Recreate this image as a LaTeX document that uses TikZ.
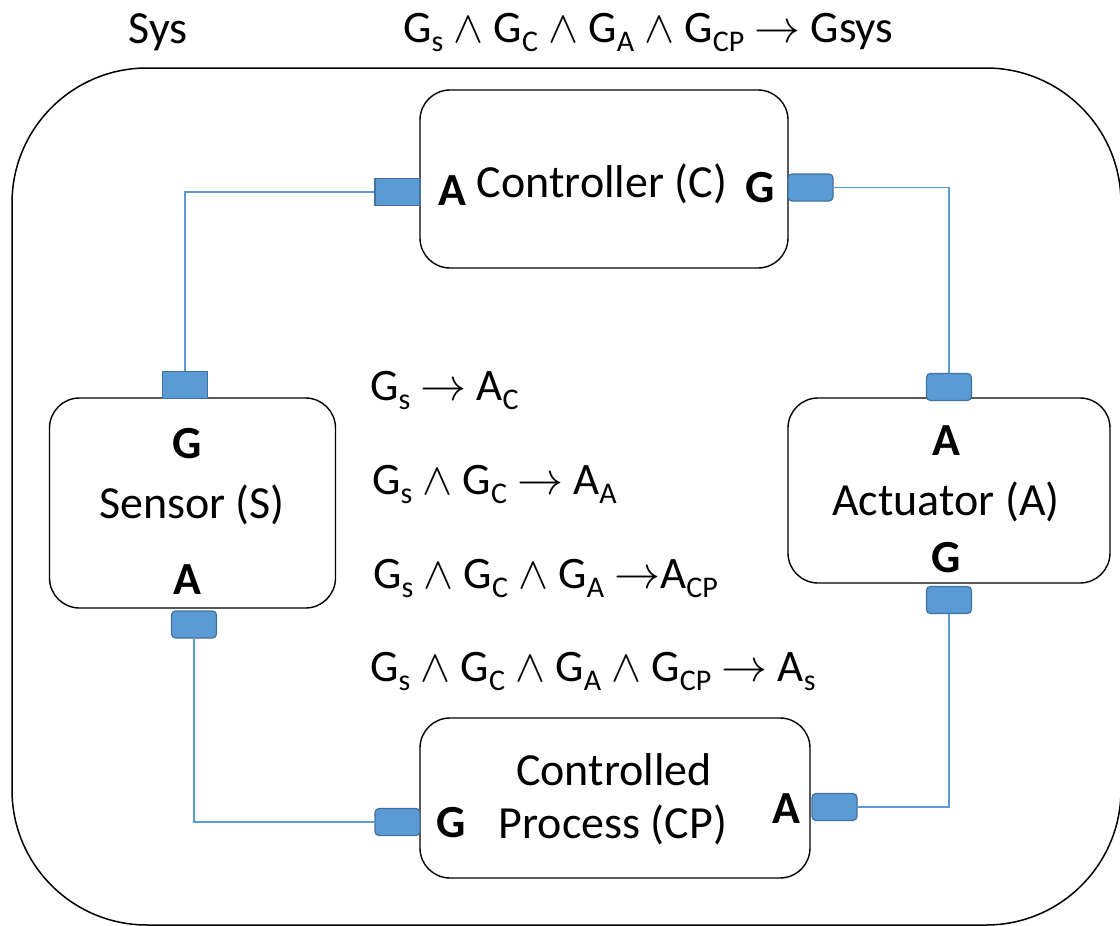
\documentclass[tikz,border=0pt]{standalone}
\usepackage{graphicx}
\usepackage{fontspec}
\setmainfont{Carlito}
\definecolor{portfill}{RGB}{91,155,213}
\definecolor{portedge}{RGB}{65,113,156}
\definecolor{wire}{RGB}{91,155,213}
\newcommand\lsub[1]{\raisebox{-0.22em}{\fontsize{30}{32}\selectfont #1}}
\newcommand\mwedge{\scalebox{4.5}{\fontsize{10}{12}\selectfont$\wedge$}}
\newcommand\marrow{\scalebox{4.6}{\fontsize{10}{12}\selectfont$\rightarrow$}}
\tikzset{
  frame/.style={draw=black, line width=1.5pt, rounded corners=135pt},
  block/.style={draw=black, line width=1.4pt, rounded corners=30pt, fill=white,
    rectangle, inner sep=0pt},
  port/.style={draw=portedge, fill=portfill, line width=1.2pt, rectangle,
    inner sep=0pt, minimum width=45pt, minimum height=27pt},
  rport/.style={port, rounded corners=4pt},
  wireline/.style={draw=wire, line width=1.6pt},
  lbl/.style={inner sep=0pt, anchor=base, font=\fontsize{46}{54}\selectfont},
  blbl/.style={lbl, font=\fontsize{46}{54}\selectfont\bfseries},
  fml/.style={inner sep=0pt, anchor=base west, font=\fontsize{45}{53}\selectfont},
}
\begin{document}
\begin{tikzpicture}[x=1pt, y=-1pt]
\useasboundingbox (0,0) rectangle (1120,926);
\begin{scope}
  \clip (0,0) rectangle (1120,926);
  \draw[frame] (12,68) rectangle (1121,925);
\end{scope}

% system label and overall guarantee
\node[lbl] (sys) at (158,43) {Sys};
\node[fml] (gsys) at (403,42) {G\lsub{s} \mwedge{} G\lsub{C} \mwedge{} G\lsub{A} \mwedge{} G\lsub{CP} \marrow{} Gsys};

% components
\node[block, minimum width=368pt, minimum height=178pt] (ctrl) at (604,179) {};
\node[block, minimum width=286pt, minimum height=210pt] (sens) at (192.5,503) {};
\node[block, minimum width=322pt, minimum height=185pt] (act) at (949,490.5) {};
\node[block, minimum width=390pt, minimum height=160pt] (proc) at (615,798) {};

% ports
\node[port]  (cL) at (397.5,192) {};
\node[rport] (cR) at (810.5,187.5) {};
\node[port]  (sT) at (185,385) {};
\node[rport] (sB) at (194,624.5) {};
\node[rport] (aT) at (949,387) {};
\node[rport] (aB) at (949,600) {};
\node[rport] (pL) at (397.5,822) {};
\node[rport] (pR) at (834.5,807) {};

% connections
\draw[wireline] (cL.west) -| (sT.north);
\draw[wireline] (cR.east) -| (aT.north);
\draw[wireline] (sB.south) |- (pL.west);
\draw[wireline] (aB.south) |- (pR.east);

% controller labels
\node[blbl] (cA) at (452,205) {A};
\node[lbl]  (cN) at (602,197) {Controller (C)};
\node[blbl] (cG) at (760,202) {G};

% sensor labels
\node[blbl] (sG) at (187,458) {G};
\node[lbl]  (sN) at (192,518) {Sensor (S)};
\node[blbl] (sA) at (187,594) {A};

% actuator labels
\node[blbl] (aA) at (946,455) {A};
\node[lbl]  (aN) at (946,515) {Actuator (A)};
\node[blbl] (aG) at (946,572) {G};

% controlled process labels
\node[lbl]  (pN1) at (614,785) {Controlled};
\node[lbl]  (pN2) at (613,838) {Process (CP)};
\node[blbl] (pG) at (451,837) {G};
\node[blbl] (pA) at (786,823) {A};

% assume/guarantee chain
\node[fml] (f1) at (370,400) {G\lsub{s} \marrow{} A\lsub{C}};
\node[fml] (f2) at (372,494) {G\lsub{s} \mwedge{} G\lsub{C} \marrow{} A\lsub{A}};
\node[fml] (f3) at (373,588) {G\lsub{s} \mwedge{} G\lsub{C} \mwedge{} G\lsub{A} \marrow{}A\lsub{CP}};
\node[fml] (f4) at (370,681) {G\lsub{s} \mwedge{} G\lsub{C} \mwedge{} G\lsub{A} \mwedge{} G\lsub{CP} \marrow{} A\lsub{s}};
\end{tikzpicture}
\end{document}
